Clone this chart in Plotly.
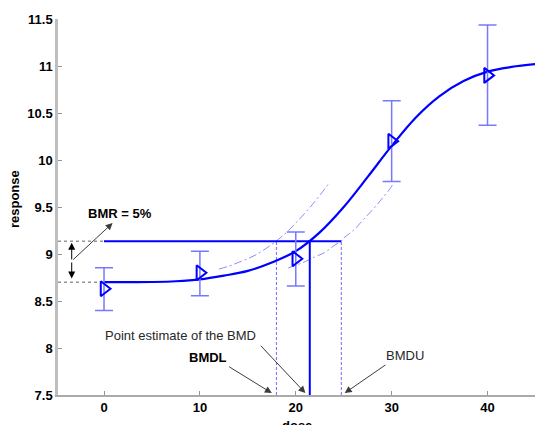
import plotly.graph_objects as go

# ---- data ----
dose = [0, 10, 20, 30, 40]
resp_mean = [8.63, 8.80, 8.95, 10.20, 10.90]
resp_upper = [8.855, 9.03, 9.235, 10.63, 11.435]
resp_lower = [8.40, 8.555, 8.66, 9.77, 10.37]

fit_dose = [0, 2.5, 5, 7.5, 10, 12.5, 15, 17.5, 20, 22.5, 25, 27.5, 30, 32.5, 35, 37.5, 40, 42.5, 45]
fit_resp = [8.700, 8.700, 8.702, 8.710, 8.73, 8.77, 8.82, 8.91, 9.03, 9.23, 9.50, 9.82, 10.15,
            10.45, 10.68, 10.84, 10.94, 10.99, 11.02]

ci_up_dose = [12, 13, 14, 15, 16, 17, 18, 19, 20, 21, 22, 23, 23.4]
ci_up_resp = [8.84, 8.87, 8.91, 8.95, 9.00, 9.067, 9.14, 9.227, 9.33, 9.44, 9.56, 9.69, 9.745]

ci_lo_dose = [19.2, 20, 21, 22, 23, 24, 24.75, 25, 26, 27, 28, 29, 30, 30.1]
ci_lo_resp = [8.85, 8.88, 8.92, 8.97, 9.015, 9.09, 9.138, 9.17, 9.25, 9.36, 9.47, 9.59, 9.72, 9.745]

background = 8.70
bmr_level = 9.135
bmd = 21.46
bmdl = 17.98
bmdu = 24.75

x_min, x_max = -4.8, 44.95
y_min, y_max = 7.5, 11.5
x_ticks = [0, 10, 20, 30, 40]
y_ticks = [7.5, 8, 8.5, 9, 9.5, 10, 10.5, 11, 11.5]

BLUE = "rgb(0,0,255)"
LIGHT = "rgb(120,120,255)"
FONT = "Arial, Liberation Sans, sans-serif"
FS = 13

fig = go.Figure()

# dotted reference lines from the axis
for lev in [bmr_level, background]:
    fig.add_trace(go.Scatter(x=[x_min, 0], y=[lev, lev], mode="lines",
                             line=dict(color="rgb(150,150,150)", width=1.5, dash="dot"),
                             hoverinfo="skip", showlegend=False))

# confidence curves
for cx, cy in [(ci_up_dose, ci_up_resp), (ci_lo_dose, ci_lo_resp)]:
    fig.add_trace(go.Scatter(x=cx, y=cy, mode="lines",
                             line=dict(color="rgb(110,110,255)", width=0.8, dash="8px,3px,2px,3px",
                                       shape="spline"),
                             showlegend=False))

# BMDL / BMDU dashed verticals
for xv in [bmdl, bmdu]:
    fig.add_trace(go.Scatter(x=[xv, xv], y=[y_min, bmr_level], mode="lines",
                             line=dict(color="rgb(70,70,255)", width=0.8, dash="3px,2px"),
                             showlegend=False))

# BMR horizontal line and BMD vertical
fig.add_trace(go.Scatter(x=[0, bmdu], y=[bmr_level, bmr_level], mode="lines",
                         line=dict(color=BLUE, width=2), showlegend=False))
fig.add_trace(go.Scatter(x=[bmd, bmd], y=[y_min, bmr_level], mode="lines",
                         line=dict(color=BLUE, width=2), showlegend=False))

# fitted curve
fig.add_trace(go.Scatter(x=fit_dose, y=fit_resp, mode="lines",
                         line=dict(color=BLUE, width=2.2, shape="spline"), showlegend=False))

# observed means with error bars
fig.add_trace(go.Scatter(
    x=dose, y=resp_mean, mode="markers",
    marker=dict(symbol="triangle-right-open", size=13, color=BLUE, line=dict(width=2, color=BLUE)),
    error_y=dict(type="data", symmetric=False,
                 array=[u - m for u, m in zip(resp_upper, resp_mean)],
                 arrayminus=[m - l for l, m in zip(resp_lower, resp_mean)],
                 color=LIGHT, thickness=1.5, width=9),
    showlegend=False))

# ---- annotations ----
ann = []
ARROW = "rgb(60,60,60)"
# double-headed arrow for BMR
for yt in [bmr_level - 0.015, background + 0.04]:
    ann.append(dict(x=-3.37, y=yt, ax=-3.37, ay=8.926, xref="x", yref="y", axref="x", ayref="y",
                    text="", showarrow=True, arrowhead=2, arrowsize=1.4, arrowwidth=1, arrowcolor="black"))
ann.append(dict(x=0.9, y=9.33, ax=-3.37, ay=8.926, xref="x", yref="y", axref="x", ayref="y",
                text="", showarrow=True, arrowhead=2, arrowsize=1.4, arrowwidth=1, arrowcolor=ARROW))
ann.append(dict(x=1.64, y=9.436, xref="x", yref="y", text="<b>BMR = 5%</b>", showarrow=False,
                font=dict(size=FS, color="black", family=FONT)))
# Point estimate
ann.append(dict(x=21.0, y=7.52, ax=16.2, ay=8.04, xref="x", yref="y", axref="x", ayref="y",
                text="", showarrow=True, arrowhead=2, arrowsize=1.4, arrowwidth=1, arrowcolor=ARROW))
ann.append(dict(x=8.0, y=8.138, xref="x", yref="y", text="Point estimate of the BMD", showarrow=False,
                font=dict(size=FS, color="rgb(40,40,40)", family=FONT)))
# BMDL
ann.append(dict(x=17.5, y=7.52, ax=12.9, ay=7.81, xref="x", yref="y", axref="x", ayref="y",
                text="", showarrow=True, arrowhead=2, arrowsize=1.4, arrowwidth=1, arrowcolor=ARROW))
ann.append(dict(x=10.8, y=7.904, xref="x", yref="y", text="<b>BMDL</b>", showarrow=False,
                font=dict(size=FS, color="black", family=FONT)))
# BMDU
ann.append(dict(x=25.1, y=7.52, ax=29.5, ay=7.83, xref="x", yref="y", axref="x", ayref="y",
                text="", showarrow=True, arrowhead=2, arrowsize=1.4, arrowwidth=1, arrowcolor=ARROW))
ann.append(dict(x=31.4, y=7.925, xref="x", yref="y", text="BMDU", showarrow=False,
                font=dict(size=FS, color="rgb(40,40,40)", family=FONT)))
# axis titles
ann.append(dict(x=0.5, y=-0.055, xref="paper", yref="paper", yanchor="top", xanchor="center",
                text="<b>dose</b>", showarrow=False, font=dict(size=FS, color="black", family=FONT)))
ann.append(dict(x=-0.091, y=0.52, xref="paper", yref="paper", xanchor="center", yanchor="middle",
                text="<b>response</b>", textangle=-90,
                showarrow=False, font=dict(size=FS, color="black", family=FONT)))

fig.update_layout(
    width=535, height=425,
    margin=dict(l=58, r=0, t=19, b=30, autoexpand=False),
    paper_bgcolor="white", plot_bgcolor="white",
    font=dict(family=FONT, size=FS, color="black"),
    annotations=ann,
    xaxis=dict(range=[x_min, x_max], tickvals=x_ticks, showgrid=False, zeroline=False,
               showline=True, linecolor="rgb(170,170,170)", linewidth=1.5, automargin=False,
               ticks="inside", ticklen=4, tickcolor="rgb(150,150,150)",
               tickfont=dict(size=FS, weight="bold", family=FONT)),
    yaxis=dict(range=[y_min, y_max], tickvals=y_ticks, showgrid=False, zeroline=False,
               showline=True, linecolor="rgb(190,190,190)", linewidth=2.5, automargin=False,
               ticks="inside", ticklen=4, tickcolor="rgb(150,150,150)",
               tickfont=dict(size=FS, weight="bold", family=FONT)),
)

fig.write_html("out.html", config={"displayModeBar": False},
               post_script="document.body.style.margin='0px';")
